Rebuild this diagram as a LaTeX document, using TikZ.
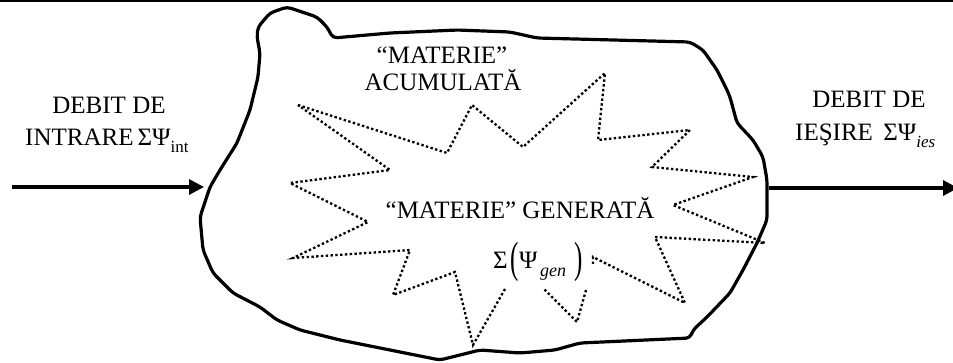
\documentclass[tikz,border=0pt]{standalone}
\usepackage{fontspec}
\setmainfont{Liberation Serif}
\usetikzlibrary{arrows.meta}
\tikzset{
  lbl/.style={inner sep=0pt, font=\fontsize{25}{27}\selectfont, anchor=base},
  sub/.style={inner sep=0pt, font=\fontsize{18}{18}\selectfont\itshape, anchor=base west},
  blob/.style={line width=3.2pt, line join=round, rounded corners=4pt},
  star/.style={line width=2.3pt, dash pattern=on 2.4pt off 2.4pt, line join=miter},
  flow/.style={line width=3.2pt, -{Triangle[length=15pt,width=15pt]}},
}
\newcommand{\subtxt}[1]{\raisebox{-0.3em}{\fontsize{17}{17}\selectfont #1}}
\newcommand{\bigpar}[1]{\raisebox{-4pt}{\scalebox{1}[1.75]{#1}}}
\begin{document}
\begin{tikzpicture}[x=1pt,y=-1pt]
\useasboundingbox (0,0) rectangle (953,362);
% top rule
\draw[line width=2pt] (0,1) -- (953,1);
% blob outline
\draw[blob] (333,38) -- (390,33) -- (457,30) -- (510,32) -- (537,38) -- (690,42)
  -- (703,50) -- (717,70) -- (727,90) -- (730,97) -- (737,123) -- (753,140)
  -- (763,157) -- (767,180) -- (767,220) -- (757,243) -- (743,270) -- (730,293)
  -- (707,317) -- (693,330) -- (690,338) -- (580,343) -- (555,350) -- (520,353)
  -- (480,350) -- (440,360) -- (390,350) -- (340,340) -- (300,330) -- (277,320)
  -- (260,307) -- (233,293) -- (213,273) -- (203,250) -- (200,217) -- (210,187)
  -- (220,170) -- (237,143) -- (250,110) -- (258,77) -- (260,53) -- (257,37)
  -- (258,27) -- (270,13) -- (287,7) -- (317,17) -- (327,27) -- cycle;
% star (generated matter)
\draw[star] (298,105) -- (447,153) -- (472,105) -- (523,147) -- (605,73)
  -- (598,140) -- (690,130) -- (652,167) -- (753,177) -- (673,205) -- (765,243)
  -- (655,237) -- (685,303) -- (593,257) -- (593,266);
\draw[star] (586,290) -- (577,322) -- (543,288);
\draw[star] (505,289) -- (473,345) -- (455,272) -- (393,295) -- (410,250)
  -- (293,258) -- (368,222) -- (290,183) -- (390,170) -- (298,105);
% flows
\coordinate (inS) at (12,187);
\coordinate (inE) at (204,187);
\coordinate (outS) at (769,188);
\coordinate (outE) at (958,188);
\draw[flow] (inS) -- (inE);
\draw[flow] (outS) -- (outE);
% labels
\node[lbl] (in1) at (109,113) {DEBIT DE};
\node[lbl, anchor=base west] (in2) at (25,145) {INTRARE\,ΣΨ\subtxt{int}};
\node[lbl] (out1) at (869,107) {DEBIT DE};
\node[lbl, anchor=base west] (out2) at (795,140) {IEŞIRE \,ΣΨ\subtxt{\itshape ies}};
\node[lbl] (acc1) at (442,63) {“MATERIE”};
\node[lbl] (acc2) at (443,90) {ACUMULATĂ};
\node[lbl] (gen1) at (520,218) {“MATERIE” GENERATĂ};
\node[lbl, anchor=base west] (sig) at (493,268) {Σ};
\node[lbl, anchor=base west] (lp) at (510,268) {\bigpar{(}};
\node[lbl, anchor=base west] (psi) at (519,268) {Ψ};
\node[sub] (gsub) at (540,276) {gen};
\node[lbl, anchor=base west] (rp) at (574,268) {\bigpar{)}};
\end{tikzpicture}
\end{document}
